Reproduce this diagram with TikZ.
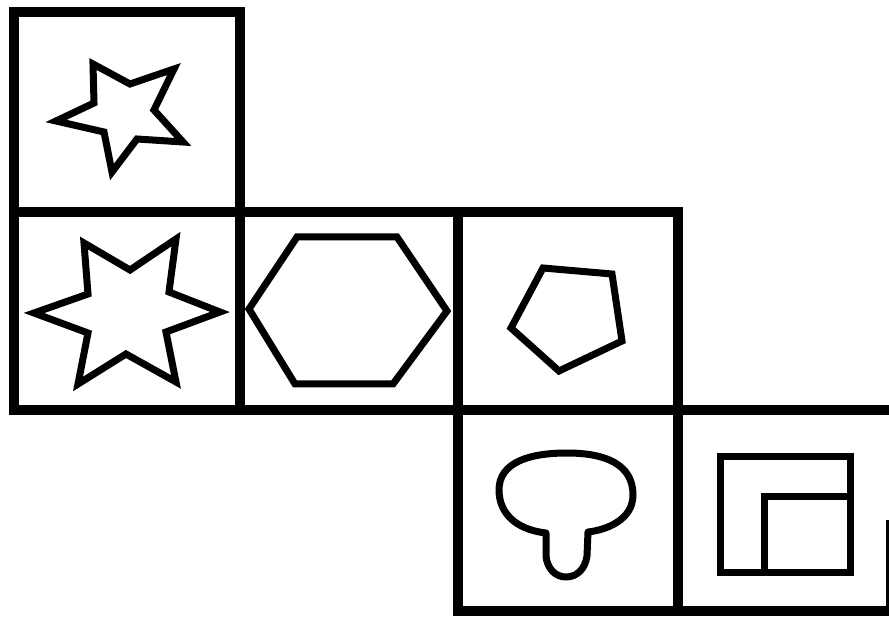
\documentclass[tikz,border=0pt]{standalone}
\begin{document}
\begin{tikzpicture}[x=1pt,y=-1pt,
  cell/.style={draw=black,line width=10pt,line join=miter},
  figure/.style={draw=black,line width=7pt,line join=miter}]
\useasboundingbox[fill=white] (0,0) rectangle (889,617);
% grid cells
\draw[cell] (14,12) rectangle (240,212);
\draw[cell] (14,212) rectangle (240,410);
\draw[cell] (240,212) rectangle (458,410);
\draw[cell] (458,212) rectangle (678,410);
\draw[cell] (458,410) rectangle (678,611);
\draw[cell] (678,410) -- (895,410);
\draw[cell] (678,611) -- (895,611);
\draw[cell] (891,520) -- (891,611);
% five-pointed star
\draw[figure] (93,64) -- (130,84) -- (174,69) -- (154,110) -- (183,142) -- (137,139)
  -- (112,172) -- (104,132) -- (56,121) -- (94,103) -- cycle;
% six-pointed star
\draw[figure] (84,243) -- (130,270) -- (176,239) -- (169,292) -- (220,312) -- (166,332)
  -- (176,382) -- (126,354) -- (78,384) -- (88,333) -- (34,313) -- (88,294) -- cycle;
% hexagon
\draw[figure] (297,237) -- (397,237) -- (447,311) -- (393,384) -- (295,384) -- (249,309) -- cycle;
% pentagon
\draw[figure] (543,268) -- (612,274) -- (622,341) -- (559,371) -- (511,328) -- cycle;
% mushroom blob
\draw[figure,line join=round] (546,533) .. controls (512,529) and (499,510) .. (499,490)
  .. controls (499,462) and (530,453) .. (567,453)
  .. controls (605,453) and (633,464) .. (633,495)
  .. controls (633,520) and (606,530) .. (588,532)
  -- (587,556) .. controls (585,570) and (576,577) .. (566,577)
  .. controls (555,577) and (547,568) .. (546,556) -- cycle;
% nested rectangles
\draw[figure] (720,456) rectangle (850,572);
\draw[figure] (764,572) -- (764,496) -- (850,496);
\end{tikzpicture}
\end{document}
